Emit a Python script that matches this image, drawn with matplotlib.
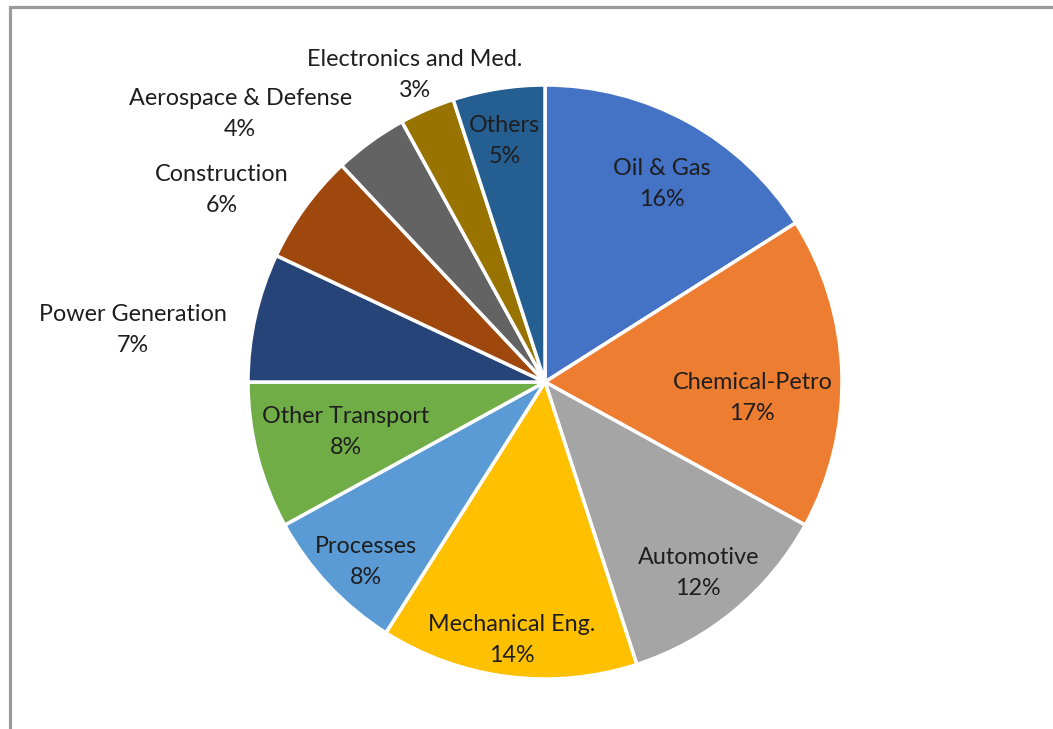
import matplotlib
matplotlib.use("Agg")
import matplotlib.pyplot as plt
import matplotlib.patches as mpatches
import numpy as np

# slices, clockwise from 12 o'clock
labels = ["Oil & Gas", "Chemical-Petro", "Automotive", "Mechanical Eng.",
          "Processes", "Other Transport", "Power Generation", "Construction",
          "Aerospace & Defense", "Electronics and Med.", "Others"]
shares = [16, 17, 12, 14, 8, 8, 7, 6, 4, 3, 5]

colors = ["#4472C4", "#ED7D31", "#A5A5A5", "#FFC000", "#5B9BD5", "#70AD47",
          "#264478", "#9E480E", "#636363", "#997300", "#255E91"]

# label placement: distance from centre (in radii) and angle nudge (deg)
label_r = [0.78, 0.70, 0.82, 0.87, 0.85, 0.69, 1.40, 1.27, 1.37, 1.13, 0.83]
label_nudge = [-1.4, -5.7, -0.6, -0.2, 1.6, -0.9, 5.1, 5.0, 12.5, -0.6, 0.4]

W, H = 1053, 729
fig = plt.figure(figsize=(W / 100, H / 100), dpi=100)
ax = fig.add_axes([0, 0, 1, 1])

cx, cy, R = 545, H - 382, 297
wedges, _ = ax.pie(shares, colors=colors, startangle=90, counterclock=False,
                   center=(cx, cy), radius=R, frame=True,
                   wedgeprops=dict(edgecolor="white", linewidth=2.5))
ax.set_xlim(0, W)
ax.set_ylim(0, H)
ax.set_aspect("equal")
ax.axis("off")

for w, lab, v, rf, nd in zip(wedges, labels, shares, label_r, label_nudge):
    mid = np.deg2rad((w.theta1 + w.theta2) / 2 + nd)
    x = cx + rf * R * np.cos(mid)
    y = cy + rf * R * np.sin(mid) - 2
    ax.text(x, y, f"{lab}\n{v}%", ha="center", va="center", fontsize=16.8,
            color="#1e1e1e", linespacing=1.6, family=["Lato", "DejaVu Sans"])

# outer frame of the chart area
fig.patches.append(mpatches.Rectangle((9.5 / W, -0.1), 1.2, (H - 6.5) / H + 0.1,
                                      transform=fig.transFigure, fill=False,
                                      edgecolor="#9a9a9a", linewidth=2.3))

fig.savefig("out.png", dpi=100)
